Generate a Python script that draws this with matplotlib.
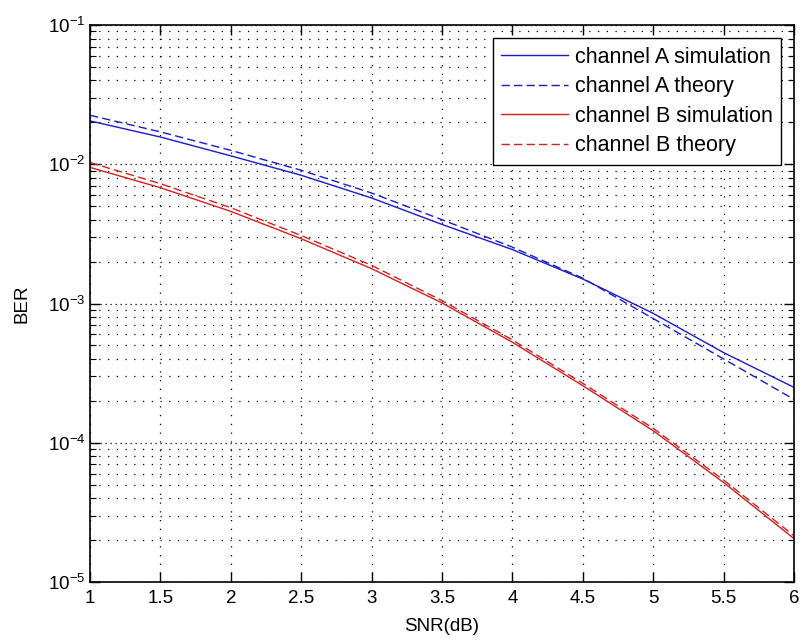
import matplotlib
matplotlib.use("Agg")
import matplotlib.pyplot as plt
import numpy as np
from matplotlib.ticker import LogLocator, NullFormatter

plt.rcParams["font.family"] = ["Liberation Sans", "DejaVu Sans"]
plt.rcParams["mathtext.fontset"] = "custom"
plt.rcParams["mathtext.rm"] = "Liberation Sans"

# values
snr_db = [1.0, 1.5, 2.0, 2.5, 3.0, 3.5, 4.0, 4.5, 5.0, 5.5, 6.0]
ber_a_sim = [0.0205, 0.0157, 0.0115, 0.00834, 0.00573, 0.0037, 0.00244, 0.00150, 8.5e-4, 4.44e-4, 2.5e-4]
ber_a_theory = [0.0225, 0.0171, 0.0126, 0.00906, 0.00622, 0.0040, 0.00254, 0.00152, 7.8e-4, 4.0e-4, 2.05e-4]
ber_b_sim = [0.0095, 0.00679, 0.00459, 0.00292, 0.00178, 0.00101, 5.27e-4, 2.57e-4, 1.22e-4, 5.18e-5, 2.05e-5]
ber_b_theory = [0.0103, 0.00726, 0.00488, 0.00308, 0.00188, 0.00105, 5.48e-4, 2.67e-4, 1.27e-4, 5.4e-5, 2.15e-5]
labels = ["channel A simulation", "channel A theory", "channel B simulation", "channel B theory"]
xtick_labels = ["1", "1.5", "2", "2.5", "3", "3.5", "4", "4.5", "5", "5.5", "6"]

fig = plt.figure(figsize=(8.02, 6.43), dpi=100)
ax = fig.add_axes([0.1122, 0.0949, 0.8778, 0.8661])

dash = (0, (6, 3))
ax.semilogy(snr_db, ber_a_sim, color="#1a1acc", lw=1.0, label=labels[0])
ax.semilogy(snr_db, ber_a_theory, color="#1a1acc", lw=1.0, linestyle=dash, label=labels[1])
ax.semilogy(snr_db, ber_b_sim, color="#d42020", lw=1.0, label=labels[2])
ax.semilogy(snr_db, ber_b_theory, color="#d42020", lw=1.0, linestyle=dash, label=labels[3])

ax.set_xlim(1, 6)
ax.set_ylim(1e-5, 1e-1)
ax.set_xticks(np.arange(1, 6.01, 0.5))
ax.set_xticklabels(xtick_labels)
ax.yaxis.set_major_locator(LogLocator(base=10, numticks=10))
ax.yaxis.set_minor_locator(LogLocator(base=10, subs=np.arange(2, 10), numticks=20))
ax.yaxis.set_minor_formatter(NullFormatter())

ax.tick_params(which="both", direction="in", top=True, right=True, labelsize=13.5, color="black")
ax.tick_params(which="major", length=7, width=1.0)
ax.tick_params(which="minor", length=4, width=0.8)
ax.tick_params(axis="x", pad=6)

grid_style = dict(color="black", linestyle=(0, (1, 6)), linewidth=0.9)
ax.grid(True, which="major", axis="x", **grid_style)
ax.grid(True, which="both", axis="y", **grid_style)
ax.yaxis.grid(True, which="major", color="black", linestyle=(0, (1, 3)), linewidth=0.9)

for s in ax.spines.values():
    s.set_linewidth(1.2)

ax.set_xlabel("SNR(dB)", fontsize=13.5, labelpad=8)
ax.set_ylabel("BER", fontsize=13.5, labelpad=12)

leg = ax.legend(loc="upper right", fontsize=15.5, fancybox=False, framealpha=1,
                edgecolor="black", handlelength=3.1, borderaxespad=0.6,
                labelspacing=0.4, handletextpad=0.3, borderpad=0.4)
leg.get_frame().set_linewidth(1.0)

fig.savefig("out.png", dpi=100)
